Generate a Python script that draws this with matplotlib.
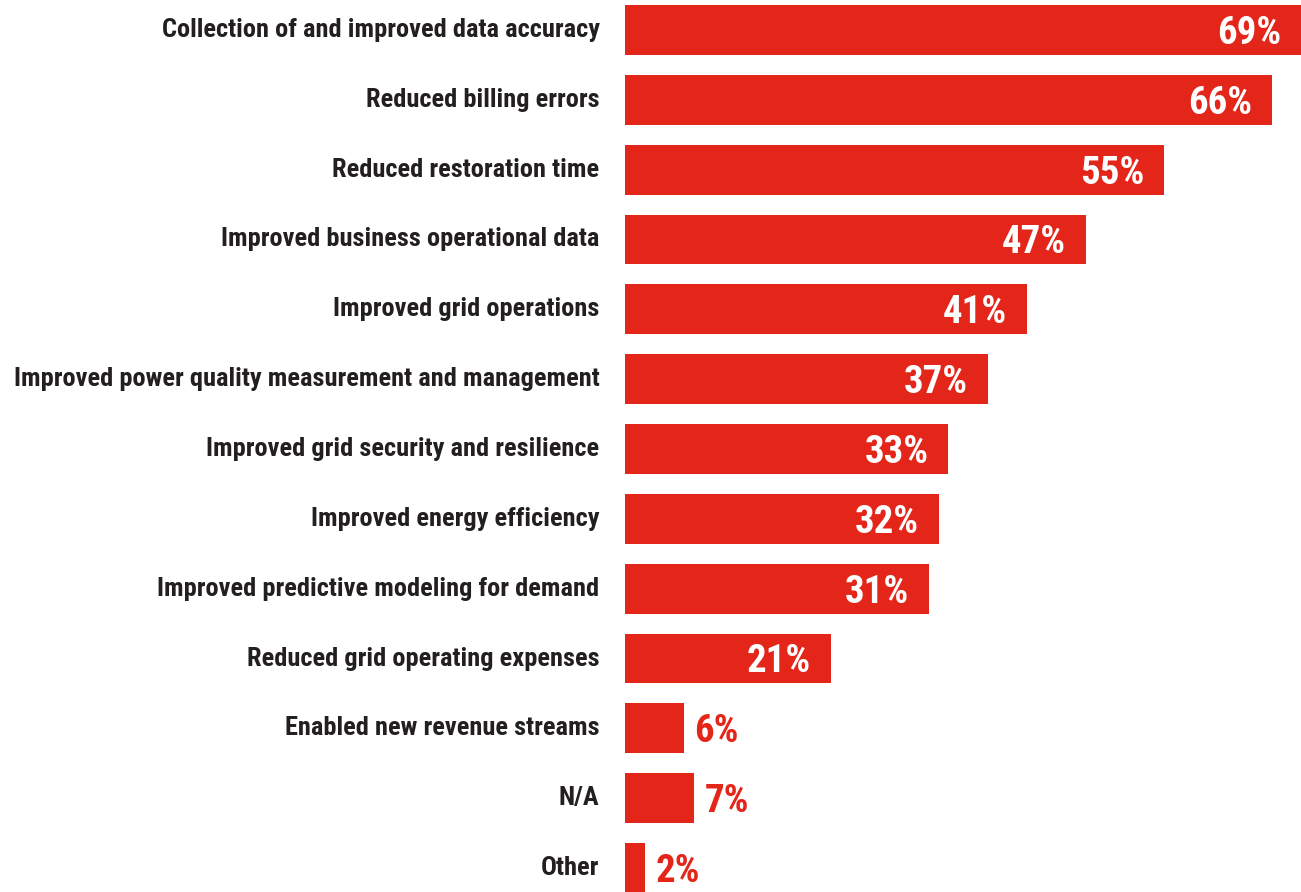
import matplotlib
matplotlib.use('Agg')
import matplotlib.pyplot as plt

categories = [
    'Collection of and improved data accuracy',
    'Reduced billing errors',
    'Reduced restoration time',
    'Improved business operational data',
    'Improved grid operations',
    'Improved power quality measurement and management',
    'Improved grid security and resilience',
    'Improved energy efficiency',
    'Improved predictive modeling for demand',
    'Reduced grid operating expenses',
    'Enabled new revenue streams',
    'N/A',
    'Other',
]
values = [69, 66, 55, 47, 41, 37, 33, 32, 31, 21, 6, 7, 2]

RED = '#E42519'
DARK = '#231F20'
plt.rcParams['font.family'] = ['Roboto Condensed', 'DejaVu Sans Condensed', 'DejaVu Sans']

fig = plt.figure(figsize=(13.01, 8.92), dpi=100)
ax = fig.add_axes([625 / 1301, 0, 676 / 1301, 1])

pos = list(range(len(categories)))
ax.barh(pos, values, height=0.715, color=RED)
ax.set_xlim(0, 676 / 9.8)
ax.set_ylim(12 + 24 / 69.95, -30 / 69.95)

for y, (cat, v) in enumerate(zip(categories, values)):
    ax.text(-2.6, y + 0.1, cat, ha='right', va='baseline', fontsize=19,
            fontweight='bold', color=DARK)
    if v >= 10:
        ax.text(v - 2.0, y + 0.2, f'{v}%', ha='right', va='baseline', fontsize=28,
                fontweight='bold', color='white')
    else:
        ax.text(v + 1.1, y + 0.2, f'{v}%', ha='left', va='baseline', fontsize=28,
                fontweight='bold', color=RED)

ax.axis('off')
for t in ax.texts:
    t.set_clip_on(False)

fig.savefig('out.png', dpi=100)
